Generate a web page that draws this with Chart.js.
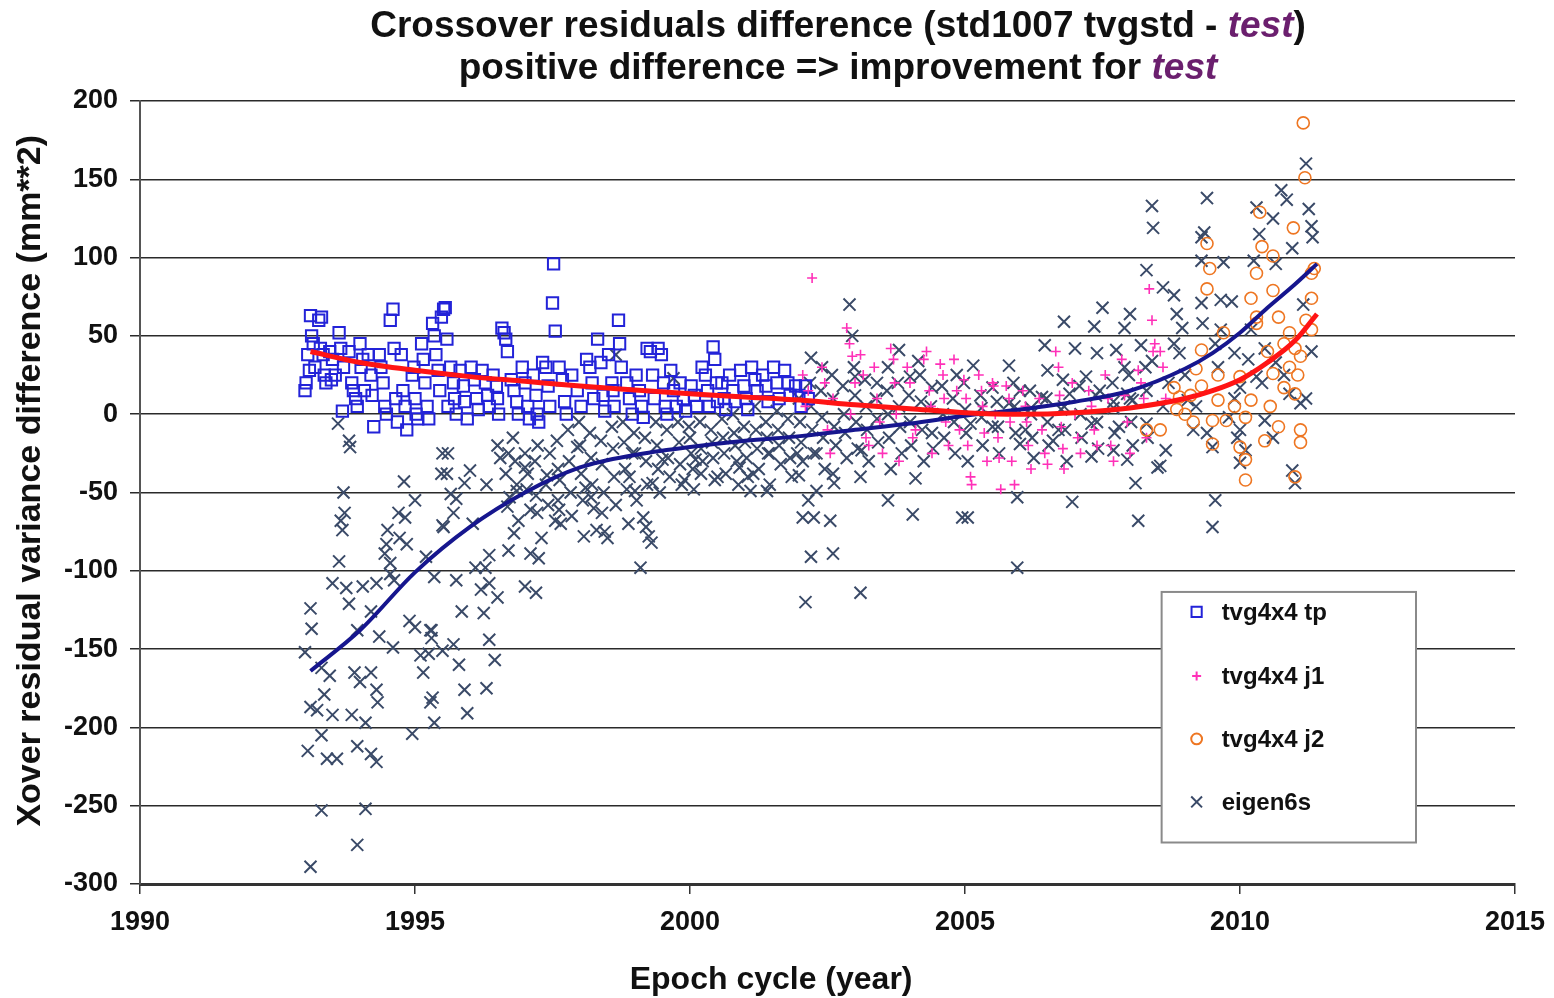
<!DOCTYPE html>
<html>
<head>
<meta charset="utf-8">
<script src="https://cdn.jsdelivr.net/npm/chart.js@4.4.1/dist/chart.umd.min.js"></script>
<style>
  html, body { margin: 0; padding: 0; background: #fff; }
  #wrap { position: relative; width: 1554px; height: 998px; }
  canvas { position: absolute; left: 0; top: 0; }
  #title {
    position: absolute; left: 238px; width: 1200px; top: 4px;
    text-align: center; color: #111;
    font: bold 37px "Liberation Sans", Arial, sans-serif; line-height: 42px;
  }
  #title i { color: #6b1f6e; }
</style>
</head>
<body>
<div id="wrap">
  <canvas id="c" width="1554" height="998"></canvas>
  <div id="title">Crossover residuals difference (std1007 tvgstd - <i>test</i>)<br>positive difference =&gt; improvement for <i>test</i></div>
</div>
<script>
// Series labels
const seriesNames = ['tvg4x4 tp', 'tvg4x4 j1', 'tvg4x4 j2', 'eigen6s'];

// Axis ticks
const xTicks = [1990, 1995, 2000, 2005, 2010, 2015];
const yTicks = [200, 150, 100, 50, 0, -50, -100, -150, -200, -250, -300];

// tvg4x4 tp : [year, variance difference mm**2]
const tpPoints = [
  [1993.0,15],[1993.02,20],[1993.05,38],[1993.08,28],
  [1993.1,63],[1993.12,50],[1993.15,45],[1993.18,30],
  [1993.25,60],[1993.3,62],[1993.28,42],[1993.33,38],[1993.35,25],[1993.38,20],
  [1993.45,40],[1993.5,35],[1993.48,22],[1993.55,25],
  [1993.62,52],[1993.68,2],[1993.7,30],[1993.65,42],
  [1993.8,40],[1993.85,20],[1993.88,15],[1993.92,10],[1993.95,5],
  [1994.0,45],[1994.02,30],[1994.05,35],[1994.08,15],
  [1994.15,38],[1994.2,25],[1994.22,12],[1994.25,-8],
  [1994.35,38],[1994.38,30],[1994.42,20],[1994.45,5],[1994.48,0],
  [1994.55,60],[1994.6,67],[1994.62,42],[1994.65,10],[1994.68,-5],
  [1994.75,38],[1994.78,15],[1994.82,5],[1994.85,-10],
  [1994.95,25],[1995.0,10],[1995.02,0],[1995.05,-3],[1994.98,30],
  [1995.12,45],[1995.15,35],[1995.18,20],[1995.22,5],[1995.25,-3],
  [1995.32,58],[1995.35,50],[1995.38,38],[1995.42,28],[1995.45,15],
  [1995.48,62],[1995.52,67],[1995.55,68],[1995.58,48],[1995.6,5],
  [1995.65,30],[1995.7,20],[1995.72,10],[1995.75,0],
  [1995.82,28],[1995.88,18],[1995.9,8],[1995.95,-3],
  [1996.02,30],[1996.08,22],[1996.12,10],[1996.15,3],
  [1996.22,28],[1996.28,20],[1996.32,12],[1996.35,5],
  [1996.42,25],[1996.48,18],[1996.5,10],[1996.52,0],
  [1996.58,55],[1996.62,52],[1996.65,48],[1996.68,40],
  [1996.75,22],[1996.8,15],[1996.85,8],[1996.88,0],
  [1996.95,30],[1997.0,20],[1997.05,5],[1997.08,-3],
  [1997.15,25],[1997.2,12],[1997.22,0],[1997.25,-5],
  [1997.32,33],[1997.38,30],[1997.42,18],[1997.45,5],
  [1997.52,96],[1997.5,71],[1997.55,53],
  [1997.62,30],[1997.68,22],[1997.72,8],[1997.75,0],
  [1997.85,25],[1997.95,15],[1998.02,5],
  [1998.12,35],[1998.18,30],[1998.22,20],[1998.25,10],
  [1998.32,48],[1998.38,33],[1998.42,12],[1998.45,2],
  [1998.52,38],[1998.58,20],[1998.6,15],[1998.62,5],
  [1998.7,60],[1998.72,45],[1998.75,30],
  [1998.85,20],[1998.9,10],[1998.95,0],
  [1999.02,25],[1999.08,15],[1999.12,5],[1999.15,-2],
  [1999.22,42],[1999.28,40],[1999.32,25],[1999.35,10],
  [1999.42,42],[1999.48,38],[1999.52,20],[1999.55,5],[1999.58,0],
  [1999.65,28],[1999.7,15],[1999.75,5],
  [1999.82,20],[1999.88,10],[1999.92,2],
  [2000.02,18],[2000.08,12],[2000.12,5],
  [2000.22,30],[2000.28,25],[2000.32,15],[2000.35,5],
  [2000.42,43],[2000.45,35],[2000.48,20],[2000.5,8],
  [2000.58,20],[2000.62,10],[2000.65,3],
  [2000.72,25],[2000.78,15],[2000.82,8],
  [2000.92,28],[2000.98,18],[2001.02,10],[2001.05,3],
  [2001.12,30],[2001.18,22],[2001.22,15],
  [2001.32,25],[2001.38,18],[2001.42,8],
  [2001.52,30],[2001.58,20],[2001.62,10],
  [2001.72,28],[2001.78,20],[2001.82,12],
  [2001.92,18],[2001.98,12],[2002.02,5],
  [2002.1,18],[2002.15,10]
];

// tvg4x4 j1
const j1Points = [
  [2002.1,5],[2002.15,15],[2002.05,25],[2002.22,87],
  [2002.4,30],[2002.45,20],[2002.5,-10],[2002.55,-25],[2002.6,10],
  [2002.85,55],[2002.9,45],[2002.95,37],[2003.0,20],[2002.92,0],
  [2003.1,38],[2003.15,25],[2003.2,-15],[2003.25,-20],
  [2003.35,30],[2003.4,10],[2003.45,-5],[2003.5,-25],
  [2003.65,42],[2003.7,35],[2003.72,20],[2003.75,0],[2003.8,-30],
  [2003.95,30],[2004.0,20],[2004.05,-15],[2004.1,-10],
  [2004.25,35],[2004.3,40],[2004.35,15],[2004.38,5],[2004.4,-25],
  [2004.55,32],[2004.6,25],[2004.62,10],[2004.65,-5],[2004.7,-20],
  [2004.8,35],[2004.85,15],[2004.9,-10],
  [2004.98,22],[2005.02,10],[2005.05,-20],[2005.1,-40],[2005.12,-45],
  [2005.25,25],[2005.3,15],[2005.32,5],[2005.35,-12],[2005.4,-30],
  [2005.5,20],[2005.52,18],[2005.55,0],[2005.6,-15],[2005.62,-28],[2005.65,-48],
  [2005.75,18],[2005.8,10],[2005.82,-5],[2005.85,-30],[2005.9,-45],
  [2006.05,15],[2006.1,5],[2006.12,-5],[2006.15,-20],[2006.2,-35],
  [2006.35,10],[2006.4,-10],[2006.45,-25],[2006.5,-32],
  [2006.65,40],[2006.7,30],[2006.72,12],[2006.75,-8],[2006.78,-22],[2006.8,-35],
  [2006.95,20],[2007.0,0],[2007.05,-15],[2007.1,-25],
  [2007.25,15],[2007.3,5],[2007.35,-10],[2007.4,-20],
  [2007.55,25],[2007.6,10],[2007.65,-20],[2007.7,-30],
  [2007.85,35],[2007.9,12],[2007.95,-5],[2008.0,-25],
  [2008.15,28],[2008.2,20],[2008.25,10],[2008.3,-15],
  [2008.35,80],[2008.4,60],[2008.45,45],[2008.42,40],
  [2008.55,40],[2008.6,30],[2008.65,10]
];

// tvg4x4 j2
const j2Points = [
  [2011.15,186],[2011.18,151],[2010.36,129],[2010.97,119],[2009.4,109],[2010.4,107],
  [2010.6,101],[2010.3,90],[2011.3,90],[2009.4,80],[2010.2,74],[2010.6,79],[2011.3,74],
  [2010.3,62],[2010.7,62],[2009.7,52],[2010.9,52],[2011.3,54],[2011.0,42],[2009.3,41],
  [2011.1,37],[2010.9,30],[2008.8,17],[2009.6,25],[2010.0,24],[2010.6,26],[2010.8,17],
  [2008.9,11],[2009.6,9],[2010.2,9],[2011.0,13],[2008.55,-10],[2008.85,3],[2009.5,-4],
  [2009.75,-4],[2010.1,-2],[2010.45,-17],[2010.7,-8],[2011.1,-10],[2011.1,-18],
  [2009.5,-19],[2010.0,-21],[2010.1,-29],[2010.1,-42],[2011.0,-40],[2009.0,0],
  [2009.45,93],[2008.3,-10],[2009.2,29],[2009.3,18],[2009.1,12],[2010.3,58],
  [2010.5,40],[2010.8,45],[2011.35,93],[2011.2,60],[2011.05,25],[2009.9,5],
  [2009.15,-5],[2010.55,5]
];

// eigen6s
const eigenPoints = [
  [1993.6,-6],[1993.8,-17],[1993.82,-21],[1994.8,-43],[1995.0,-55],[1993.7,-50],
  [1993.72,-63],[1993.65,-68],[1993.68,-74],[1994.7,-63],[1994.82,-66],[1994.5,-74],
  [1994.72,-79],[1994.85,-83],[1994.48,-83],[1994.45,-89],[1994.55,-95],[1993.62,-94],
  [1995.2,-91],[1995.5,-25],[1995.48,-38],[1995.52,-72],[1993.5,-108],[1993.75,-111],
  [1994.05,-110],[1994.3,-108],[1994.55,-102],[1994.62,-106],
  [1993.1,-124],[1993.12,-137],[1993.8,-121],[1994.2,-126],[1993.95,-138],[1994.35,-142],
  [1994.6,-149],[1994.9,-132],[1995.0,-136],[1995.28,-138],[1995.3,-143],[1995.1,-154],
  [1995.25,-153],[1993.0,-152],[1993.3,-162],[1993.45,-167],[1993.9,-165],[1994.2,-165],
  [1994.0,-171],[1994.3,-176],[1994.32,-184],[1993.35,-179],[1993.1,-187],[1993.22,-189],
  [1993.5,-192],[1993.85,-192],[1994.1,-197],[1995.32,-181],[1995.28,-184],[1995.35,-197],
  [1994.95,-204],[1993.3,-205],[1993.05,-215],[1993.4,-220],[1993.58,-220],[1993.95,-212],
  [1994.2,-217],[1994.3,-222],[1993.3,-253],[1994.1,-252],[1993.95,-275],[1993.1,-289],
  [1995.6,-25],[1995.58,-38],[1996.0,-36],[1995.9,-44],[1995.65,-51],[1995.75,-54],
  [1995.7,-63],[1995.5,-71],[1996.05,-70],[1996.7,-25],[1996.65,-38],[1996.3,-45],
  [1997.0,-34],[1997.05,-38],[1997.4,-39],[1996.72,-53],[1996.85,-49],[1996.68,-59],
  [1996.88,-68],[1996.8,-76],[1997.1,-61],[1997.22,-63],[1997.6,-55],[1997.62,-61],
  [1997.55,-68],[1997.3,-79],[1996.7,-87],[1997.1,-89],[1997.25,-92],[1996.35,-90],
  [1996.1,-98],[1996.28,-98],[1995.35,-104],[1995.75,-106],[1996.35,-108],[1996.2,-112],
  [1996.5,-117],[1997.0,-110],[1997.2,-114],[1995.85,-126],[1996.25,-127],[1995.3,-138],
  [1998.1,-47],[1998.2,-53],[1998.4,-63],[1998.3,-74],[1998.5,-79],[1997.95,-21],
  [1998.9,-40],[1999.0,-49],[1999.15,-66],[1999.2,-72],[1999.3,-82],[1999.32,-44],
  [1999.1,-98],[1998.95,-25],[1999.5,-29],[1999.9,-42],[2000.1,-29],
  [1995.9,-176],[1996.3,-175],[1995.95,-191],[1996.35,-144],[1996.45,-157],[1995.5,-151],
  [1995.7,-147],[1995.15,-165],[1995.8,-160],
  [1996.5,-20],[1996.55,-28],[1996.78,-15],[1996.82,-30],[1996.85,-45],
  [1997.0,-25],[1997.03,-48],[1997.18,-30],[1997.2,-52],[1997.23,-20],
  [1997.38,-45],[1997.42,-58],[1997.45,-25],
  [1997.58,-17],[1997.6,-35],[1997.63,-42],[1997.65,-70],
  [1997.78,-10],[1997.8,-30],[1997.83,-50],[1997.85,-65],
  [1997.98,-5],[1998.0,-20],[1998.02,-38],[1998.05,-55],[1998.07,-78],
  [1998.18,-12],[1998.2,-28],[1998.22,-45],[1998.25,-60],
  [1998.38,-17],[1998.4,-32],[1998.43,-50],[1998.45,-75],
  [1998.58,-8],[1998.6,-22],[1998.62,-40],[1998.65,-58],
  [1998.78,-5],[1998.8,-18],[1998.82,-35],[1998.85,-48],[1998.88,-70],
  [1998.98,-12],[1999.0,-25],[1999.03,-55],
  [1999.18,-15],[1999.2,-30],[1999.22,-45],[1999.25,-78],
  [1999.38,-5],[1999.4,-20],[1999.42,-35],[1999.45,-50],
  [1999.58,-10],[1999.6,-28],[1999.63,-40],
  [1999.78,-5],[1999.8,-18],[1999.82,-32],[1999.85,-45],
  [1999.98,-8],[2000.0,-15],[2000.02,-25],[2000.05,-35],[2000.07,-48],
  [2000.18,-5],[2000.2,-22],[2000.23,-30],
  [2000.38,-10],[2000.4,-18],[2000.42,-28],[2000.45,-42],
  [2000.58,-3],[2000.6,-15],[2000.62,-25],[2000.65,-38],
  [2000.78,0],[2000.8,-12],[2000.82,-20],[2000.85,-30],[2000.88,-45],
  [2000.98,-8],[2001.0,-18],[2001.03,-28],[2001.05,-40],
  [2001.18,5],[2001.2,-10],[2001.22,-22],[2001.25,-35],
  [2001.38,-5],[2001.4,-15],[2001.42,-25],[2001.45,-45],
  [2001.58,2],[2001.6,-10],[2001.62,-20],[2001.65,-32],
  [2001.78,-3],[2001.8,-15],[2001.82,-28],[2001.85,-40],
  [2001.98,10],[2002.0,-5],[2002.02,-18],[2002.05,-30],
  [2002.18,20],[2002.2,5],[2002.22,-10],[2002.25,-25],
  [2002.38,15],[2002.4,-2],[2002.42,-15],[2002.45,-35],
  [2002.58,25],[2002.6,10],[2002.62,-8],[2002.65,-20],
  [2002.78,18],[2002.8,0],[2002.82,-12],[2002.85,-28],
  [2002.98,30],[2003.0,12],[2003.02,-5],[2003.05,-22],
  [2003.18,22],[2003.2,5],[2003.22,-10],[2003.25,-30],
  [2003.38,10],[2003.4,-3],[2003.42,-18],
  [2003.58,15],[2003.6,0],[2003.62,-15],[2003.65,-35],
  [2003.78,20],[2003.8,5],[2003.82,-8],[2003.85,-25],
  [2003.98,12],[2004.0,-5],[2004.02,-20],
  [2004.18,25],[2004.2,8],[2004.22,-10],[2004.25,-30],
  [2004.38,5],[2004.4,-12],[2004.42,-22],
  [2004.58,18],[2004.6,0],[2004.62,-15],
  [2004.78,10],[2004.8,-5],[2004.82,-25],
  [2004.98,20],[2005.0,3],[2005.02,-12],[2005.05,-30],
  [2005.28,12],[2005.3,-2],[2005.32,-20],
  [2005.58,8],[2005.6,-8],[2005.62,-25],
  [2005.88,20],[2005.9,5],[2005.92,-12],
  [2006.18,15],[2006.2,0],[2006.22,-15],[2006.25,-28],
  [2006.48,10],[2006.5,-5],[2006.52,-20],
  [2006.78,22],[2006.8,5],[2006.82,-10],[2006.85,-30],
  [2007.08,18],[2007.1,0],[2007.12,-15],
  [2007.38,12],[2007.4,-5],[2007.42,-22],
  [2007.68,20],[2007.7,8],[2007.72,-12],
  [2007.98,25],[2008.0,10],[2008.02,-5],[2008.05,-20],
  [2008.28,30],[2008.3,15],[2008.32,-15],
  [2000.2,-38],[2000.5,-40],[2000.9,-34],[2001.1,-49],[2001.4,-49],[2001.15,-38],
  [2001.45,-25],[2001.95,-25],[2001.98,-39],[2002.3,-25],[2002.6,-38],[2002.62,-44],
  [2002.3,-49],[2002.15,-55],[2002.05,-66],[2002.25,-66],[2002.55,-68],[2002.2,-91],
  [2002.6,-89],[2002.1,-120],[2003.1,-114],[2003.1,-40],[2003.6,-55],[2004.05,-64],
  [2004.1,-41],[2004.95,-66],[2003.12,-23],
  [2002.2,36],[2002.4,30],[2002.9,70],[2002.95,50],[2003.0,24],[2003.8,41],
  [2004.15,34],[2003.6,30],[2003.4,20],[2004.85,25],[2004.4,17],[2004.0,24],
  [1998.65,38],[1999.7,23],
  [2008.3,92],[2007.5,68],[2008.0,64],[2006.8,59],[2007.35,56],[2007.9,55],
  [2006.45,44],[2007.0,42],[2007.4,39],[2007.75,41],[2008.2,44],[2005.15,31],
  [2005.8,31],[2006.5,28],[2007.2,24],[2007.9,30],[2008.4,34],[2005.5,17],
  [2006.0,15],[2006.4,11],[2006.9,13],[2007.45,15],[2007.95,13],[2005.3,4],
  [2005.8,7],[2006.2,4],[2006.75,3],[2007.7,4],[2008.05,9],[2005.1,-6],
  [2005.5,-8],[2006.1,-10],[2006.7,-10],[2007.3,-6],[2007.8,-8],[2008.3,-6],
  [2006.0,-19],[2006.6,-17],[2007.3,-27],[2007.7,-23],[2007.95,-29],[2008.1,-44],
  [2005.95,-53],[2006.95,-56],[2005.05,-66],[2008.15,-68],[2005.95,-98],[2008.5,-34],
  [2011.2,160],[2008.4,133],[2008.42,119],[2009.4,138],[2010.75,143],[2010.85,137],
  [2010.3,132],[2011.25,131],[2010.6,125],[2011.3,120],[2009.35,116],[2009.3,113],
  [2010.35,115],[2011.32,113],[2010.95,106],[2009.3,98],[2009.7,97],[2010.25,98],
  [2010.65,96],[2008.6,81],[2008.8,76],[2009.3,71],[2009.65,73],[2009.85,72],
  [2008.85,64],[2009.32,58],[2008.95,55],[2009.65,54],[2010.2,54],[2011.15,70],
  [2008.8,45],[2009.55,45],[2008.9,39],[2009.9,39],[2010.45,42],[2010.65,33],
  [2010.3,24],[2010.4,20],[2010.0,17],[2010.9,13],[2011.1,7],[2009.05,9],
  [2009.15,-10],[2009.8,-2],[2010.0,-10],[2010.45,-4],[2009.95,-15],[2010.1,-23],
  [2009.5,-21],[2008.65,-23],[2008.55,-33],[2010.0,-31],[2010.95,-36],[2011.0,-44],
  [2009.55,-55],[2009.5,-72],
  [2008.7,20],[2009.0,25],[2009.2,5],[2009.6,30],[2009.9,10],[2010.15,35],
  [2010.6,-15],[2010.8,25],[2011.2,10],[2011.3,40],[2008.6,5],[2009.4,-12]
];

// Polynomial trend of the altimetry models (red) and of eigen6s (navy)
const trendYears      = [1993.1, 1994, 1995, 1996, 1997, 1998, 1999, 2000, 2001, 2002, 2003, 2004, 2005, 2006, 2007, 2008, 2009, 2009.5, 2010, 2010.5, 2011, 2011.4];
const trendTvgValues  = [40, 33, 28, 24, 21, 18, 15.5, 13, 11, 9, 6, 3.5, 1, 0, 1, 4, 10, 15, 22, 33, 47, 64];
const trendEigenValues= [-164, -138, -101, -72, -50, -34, -26, -21, -17, -14, -10, -6, -1, 3, 8, 15, 29, 39, 52, 68, 83, 96];

const toXY = pts => pts.map(p => ({ x: p[0], y: p[1] }));
const toCurve = (xs, ys) => xs.map((x, i) => ({ x, y: ys[i] }));

const FONT = '"Liberation Sans", Arial, Helvetica, sans-serif';
const COLORS = { tp: '#2323d8', j1: '#ff30b8', j2: '#ee7622', eigen: '#3a4a68', red: '#ff1414', navy: '#16168e' };

const styles = [
  { color: COLORS.tp, pointStyle: 'rect', radius: 8, width: 2 },
  { color: COLORS.j1, pointStyle: 'cross', radius: 5, width: 1.6 },
  { color: COLORS.j2, pointStyle: 'circle', radius: 6, width: 1.6 },
  { color: COLORS.eigen, pointStyle: 'crossRot', radius: 8.5, width: 2 }
];

// Legend box and axis titles, drawn over the chart area
const overlay = {
  id: 'overlay',
  afterDraw(chart) {
    const { ctx, chartArea: ca } = chart;
    ctx.save();
    // axis titles
    ctx.fillStyle = '#111';
    ctx.font = 'bold 32px ' + FONT;
    ctx.textAlign = 'center';
    ctx.textBaseline = 'middle';
    ctx.fillText('Epoch cycle (year)', ca.left + 0.459 * ca.width, 980);
    ctx.save();
    ctx.font = 'bold 34px ' + FONT;
    ctx.translate(31, ca.top + 0.485 * ca.height);
    ctx.rotate(-Math.PI / 2);
    ctx.fillText('Xover residual variance difference (mm**2)', 0, 0);
    ctx.restore();

    // legend
    const lx = ca.left + 0.743 * ca.width;
    const ly = ca.top + 0.627 * ca.height;
    const lw = 0.185 * ca.width;
    const lh = 0.32 * ca.height;
    ctx.fillStyle = '#fff';
    ctx.fillRect(lx, ly, lw, lh);
    ctx.strokeStyle = '#8a8a8a';
    ctx.lineWidth = 2;
    ctx.strokeRect(lx, ly, lw, lh);
    const rows = [20, 84, 147, 210];
    seriesNames.forEach((name, i) => {
      const st = styles[i];
      const y = ly + rows[i];
      ctx.strokeStyle = st.color;
      ctx.fillStyle = 'rgba(0,0,0,0)';
      Chart.helpers.drawPoint(ctx, {
        pointStyle: st.pointStyle,
        radius: st.radius * 0.9,
        rotation: 0,
        borderWidth: st.width
      }, lx + 35, y);
      ctx.fillStyle = '#111';
      ctx.font = 'bold 24px ' + FONT;
      ctx.textAlign = 'left';
      ctx.textBaseline = 'middle';
      ctx.fillText(name, lx + 60, y + 1);
    });
    ctx.restore();
  }
};

const scatterSet = (label, pts, st, order) => ({
  label,
  data: toXY(pts),
  pointStyle: st.pointStyle,
  pointRadius: st.radius,
  pointBorderWidth: st.width,
  pointBorderColor: st.color,
  pointBackgroundColor: 'rgba(0,0,0,0)',
  showLine: false,
  order
});

new Chart(document.getElementById('c'), {
  type: 'scatter',
  data: {
    datasets: [
      {
        label: 'trend tvg4x4',
        data: toCurve(trendYears, trendTvgValues),
        showLine: true, borderColor: COLORS.red, borderWidth: 5,
        pointRadius: 0, cubicInterpolationMode: 'monotone', order: 0
      },
      {
        label: 'trend eigen6s',
        data: toCurve(trendYears, trendEigenValues),
        showLine: true, borderColor: COLORS.navy, borderWidth: 4,
        pointRadius: 0, cubicInterpolationMode: 'monotone', order: 1
      },
      scatterSet(seriesNames[2], j2Points, styles[2], 2),
      scatterSet(seriesNames[1], j1Points, styles[1], 3),
      scatterSet(seriesNames[0], tpPoints, styles[0], 4),
      scatterSet(seriesNames[3], eigenPoints, styles[3], 5)
    ]
  },
  options: {
    responsive: false,
    animation: false,
    devicePixelRatio: 1,
    layout: { padding: { top: 101, right: 39, left: 0, bottom: 0 } },
    plugins: { legend: { display: false }, tooltip: { enabled: false }, title: { display: false } },
    scales: {
      x: {
        type: 'linear', min: 1990, max: 2015,
        afterBuildTicks: s => { s.ticks = xTicks.map(v => ({ value: v })); },
        afterFit: s => { s.height = 114; s.paddingLeft = 0; s.paddingRight = 0; },
        ticks: {
          padding: 12, color: '#111', maxRotation: 0,
          font: { family: FONT, size: 27, weight: 'bold' },
          callback: v => String(v)
        },
        grid: { drawOnChartArea: false, drawTicks: true, tickLength: 10, color: '#333', lineWidth: 1.5 },
        border: { display: true, color: '#333', width: 3 }
      },
      y: {
        type: 'linear', min: -300, max: 200,
        afterBuildTicks: s => { s.ticks = yTicks.map(v => ({ value: v })); },
        afterFit: s => { s.width = 140; s.paddingTop = 0; s.paddingBottom = 0; },
        ticks: {
          padding: 12, color: '#111',
          font: { family: FONT, size: 27, weight: 'bold' },
          callback: v => String(v)
        },
        grid: { color: '#2a2a2a', lineWidth: 1.5, drawTicks: true, tickLength: 10 },
        border: { display: true, color: '#555', width: 2 }
      }
    }
  },
  plugins: [overlay]
});
</script>
</body>
</html>
